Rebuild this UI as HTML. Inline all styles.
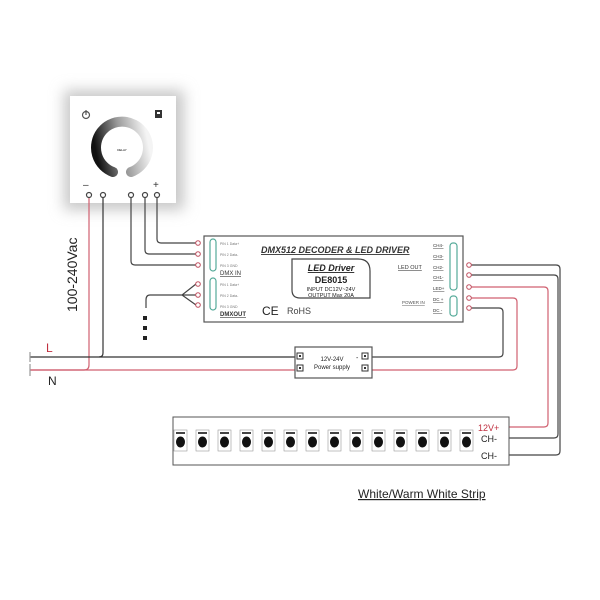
<!DOCTYPE html>
<html><head><meta charset="utf-8"><style>
body{margin:0;background:#fff}
svg{display:block;font-family:"Liberation Sans",sans-serif}
</style></head><body>
<svg width="600" height="600" viewBox="0 0 600 600" xmlns="http://www.w3.org/2000/svg">
<defs>
<filter id="sh" x="-30%" y="-30%" width="160%" height="160%"><feGaussianBlur stdDeviation="7"/></filter>
<linearGradient id="rg" x1="0" y1="0.6" x2="1" y2="0.4"><stop offset="0" stop-color="#111"/><stop offset="0.5" stop-color="#999"/><stop offset="1" stop-color="#f4f4f4"/></linearGradient>
</defs>
<!-- panel -->
<rect x="64" y="90" width="120" height="120" fill="#c8c8c8" filter="url(#sh)"/>
<rect x="70" y="96" width="106" height="107" fill="#fff"/>
<circle cx="86" cy="115" r="3.5" fill="none" stroke="#555" stroke-width="1.2"/>
<line x1="86" y1="110" x2="86" y2="115" stroke="#555" stroke-width="1.2"/>
<rect x="155" y="110" width="7" height="8" fill="#333"/>
<rect x="157" y="112" width="3" height="2" fill="#fff"/>
<path d="M113,172 A26,26 0 1 1 131,172" fill="none" stroke="url(#rg)" stroke-width="10" stroke-linecap="round"/>
<text x="122" y="151" font-size="3" text-anchor="middle">DELAY</text>
<text x="83" y="188" font-size="10" fill="#333">–</text><text x="153" y="188" font-size="10" fill="#333">+</text>
<g fill="#fff" stroke="#444" stroke-width="1.2">
<circle cx="89" cy="195" r="2.5"/><circle cx="103" cy="195" r="2.5"/><circle cx="131" cy="195" r="2.5"/><circle cx="145" cy="195" r="2.5"/><circle cx="157" cy="195" r="2.5"/>
</g>
<!-- mains -->
<g fill="none" stroke-width="1.2">
<path d="M89,198 V365 Q89,370 84,370 H30" stroke="#d06070"/>
<path d="M30,370 H296" stroke="#d06070"/>
<path d="M103,198 V353 Q103,357 99,357 H30" stroke="#333"/>
<path d="M99,357 H296" stroke="#333"/>
<path d="M30,364 V376 M30,352 V362" stroke="#999"/>
<!-- dmx in -->
<path d="M131,198 V261 Q131,265 135,265 H196" stroke="#444"/>
<path d="M145,198 V250 Q145,254 149,254 H196" stroke="#444"/>
<path d="M157,198 V239 Q157,243 161,243 H196" stroke="#444"/>
<path d="M196,284 L182,295 L196,295 M182,295 L196,305 M182,295 H150 Q146,295 146,300 V308" stroke="#444"/>
<!-- outputs -->
<path d="M471,265 H556 Q560,265 560,269 V451 Q560,455 556,455 H503" stroke="#444"/>
<path d="M471,275 H554 Q558,275 558,279 V434 Q558,438 554,438 H503" stroke="#444"/>
<path d="M471,287 H544 Q548,287 548,291 V423 Q548,427 544,427 H503" stroke="#d06070"/>
<path d="M471,298 H513 Q517,298 517,302 V366 Q517,370 513,370 H372" stroke="#d06070"/>
<path d="M471,308 H499 Q503,308 503,312 V353 Q503,357 499,357 H372" stroke="#444"/>
</g>
<g fill="#222"><rect x="143" y="316" width="4" height="4"/><rect x="143" y="326" width="4" height="4"/><rect x="143" y="336" width="4" height="4"/></g>
<text transform="translate(77,312) rotate(-90)" font-size="14" fill="#222">100-240Vac</text>
<text x="46" y="352" font-size="12" fill="#c03040">L</text>
<text x="48" y="385" font-size="12" fill="#222">N</text>
<!-- driver -->
<rect x="204" y="236" width="259" height="86" fill="#fff" stroke="#555" stroke-width="1.2"/>
<g fill="#fff" stroke="#c05060" stroke-width="1"><circle cx="198" cy="243" r="2.3"/><circle cx="198" cy="254" r="2.3"/><circle cx="198" cy="265" r="2.3"/><circle cx="198" cy="284" r="2.3"/><circle cx="198" cy="295" r="2.3"/><circle cx="198" cy="305" r="2.3"/>
<circle cx="469" cy="265" r="2.3"/><circle cx="469" cy="275" r="2.3"/><circle cx="469" cy="287" r="2.3"/><circle cx="469" cy="298" r="2.3"/><circle cx="469" cy="308" r="2.3"/></g>
<g fill="#fff" stroke="#5a9" stroke-width="1.2"><rect x="210" y="239" width="6" height="32" rx="3"/><rect x="210" y="278" width="6" height="32" rx="3"/><rect x="450" y="243" width="7" height="47" rx="3"/><rect x="450" y="296" width="7" height="20" rx="3"/></g>
<g font-size="3.5" fill="#777"><text x="220" y="245">PIN 1 Data+</text><text x="220" y="256">PIN 2 Data-</text><text x="220" y="267">PIN 3 GND</text><text x="220" y="286">PIN 1 Data+</text><text x="220" y="297">PIN 2 Data-</text><text x="220" y="308">PIN 3 GND</text></g>
<text x="220" y="275" font-size="6" fill="#333" text-decoration="underline">DMX IN</text>
<text x="220" y="316" font-size="6" fill="#333" font-weight="bold" text-decoration="underline">DMXOUT</text>
<text x="261" y="253" font-size="9" font-weight="bold" font-style="italic" fill="#333" text-decoration="underline">DMX512 DECODER &amp; LED DRIVER</text>
<path d="M292,259 H358 Q370,259 370,271 V298 H300 Q292,298 292,290 Z" fill="#fff" stroke="#444" stroke-width="1.2"/>
<text x="331" y="271" font-size="9" font-weight="bold" font-style="italic" text-anchor="middle" fill="#222" text-decoration="underline">LED Driver</text>
<text x="331" y="283" font-size="9" font-weight="bold" text-anchor="middle" fill="#222">DE8015</text>
<text x="331" y="291" font-size="5.5" text-anchor="middle" fill="#222">INPUT DC12V~24V</text>
<text x="331" y="297" font-size="5.5" text-anchor="middle" fill="#222">OUTPUT  Max 20A</text>
<text x="262" y="315" font-size="12" fill="#222">CE</text>
<text x="287" y="314" font-size="9" fill="#444">RoHS</text>
<text x="398" y="269" font-size="5.5" fill="#333" text-decoration="underline">LED OUT</text>
<text x="402" y="304" font-size="4.5" fill="#555" text-decoration="underline">POWER IN</text>
<g font-size="4.5" fill="#333" text-decoration="underline"><text x="433" y="247">CH4-</text><text x="433" y="258">CH3-</text><text x="433" y="269">CH2-</text><text x="433" y="279">CH1-</text><text x="433" y="290">LED+</text><text x="433" y="301">DC +</text><text x="433" y="312">DC -</text></g>
<!-- PSU -->
<rect x="295" y="347" width="77" height="31" fill="#fff" stroke="#555" stroke-width="1.2"/>
<g fill="#fff" stroke="#333" stroke-width="1"><rect x="297" y="353" width="6" height="6"/><rect x="297" y="365" width="6" height="6"/><rect x="362" y="353" width="6" height="6"/><rect x="362" y="365" width="6" height="6"/></g>
<g fill="#333"><rect x="299" y="355" width="2" height="2"/><rect x="299" y="367" width="2" height="2"/><rect x="364" y="355" width="2" height="2"/><rect x="364" y="367" width="2" height="2"/></g>
<text x="332" y="361" font-size="6" text-anchor="middle" fill="#222">12V-24V</text>
<text x="332" y="369" font-size="6" text-anchor="middle" fill="#222">Power supply</text>
<text x="356" y="360" font-size="7" fill="#222">-</text>
<!-- strip -->
<rect x="173" y="417" width="336" height="48" fill="#fff" stroke="#555" stroke-width="1"/>
<g id="leds">
<g transform="translate(174,0)"><rect x="0" y="430" width="13" height="21" fill="#fff" stroke="#999" stroke-width="0.6"/><ellipse cx="6.5" cy="442" rx="4.5" ry="5.5" fill="#111"/><rect x="2" y="432" width="9" height="2" fill="#444"/></g>
</g>
<use href="#leds" x="22"/><use href="#leds" x="44"/><use href="#leds" x="66"/><use href="#leds" x="88"/><use href="#leds" x="110"/><use href="#leds" x="132"/><use href="#leds" x="154"/><use href="#leds" x="176"/><use href="#leds" x="198"/><use href="#leds" x="220"/><use href="#leds" x="242"/><use href="#leds" x="264"/><use href="#leds" x="286"/>
<text x="478" y="431" font-size="9" fill="#c03040">12V+</text>
<text x="481" y="442" font-size="9" fill="#222">CH-</text>
<text x="481" y="459" font-size="9" fill="#222">CH-</text>
<text x="358" y="498" font-size="12" fill="#222" text-decoration="underline">White/Warm White Strip</text>
</svg>
</body></html>
